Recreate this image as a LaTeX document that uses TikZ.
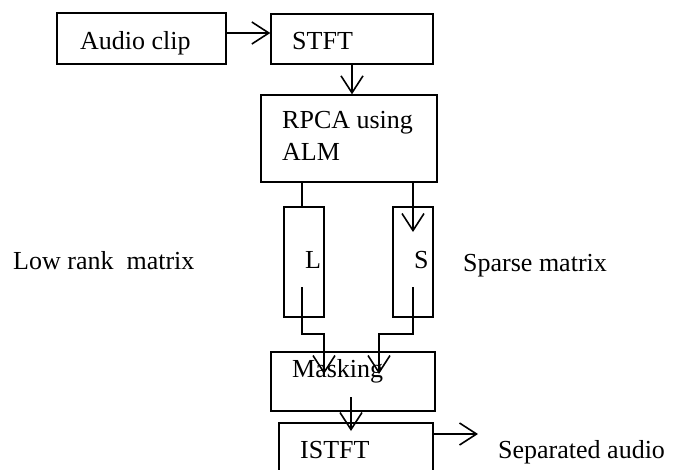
\documentclass[tikz,border=0pt]{standalone}
\usepackage{fontspec}
\setmainfont{Liberation Serif}
\usetikzlibrary{arrows.meta}
\begin{document}
\begin{tikzpicture}[x=1pt,y=-1pt,
  box/.style={draw,line width=1.4pt,inner sep=0pt,minimum width=#1},
  lbl/.style={anchor=base west,inner sep=0pt,font=\fontsize{26}{30}\selectfont},
  arr/.style={line width=1.6pt,-{Straight Barb[length=17pt,width=22pt,line width=1.6pt]}},
  ln/.style={line width=1.6pt}]
\useasboundingbox (0,0) rectangle (694,469);
% boxes
\node[box=169pt,minimum height=51pt] (audio) at (141.5,38.5) {};
\node[box=162pt,minimum height=50pt] (stft) at (352,39) {};
\node[box=176pt,minimum height=87pt] (rpca) at (349,138.5) {};
\node[box=40pt,minimum height=110pt] (L) at (304,262) {};
\node[box=40pt,minimum height=110pt] (S) at (413,262) {};
\node[box=164pt,minimum height=59pt] (mask) at (353,381.5) {};
\node[box=154pt,minimum height=80pt] (istft) at (356,463) {};
% texts
\node[lbl] (taudio) at (80,49) {Audio clip};
\node[lbl] (tstft) at (292,49) {STFT};
\node[lbl] (trpca1) at (282,128) {RPCA using};
\node[lbl] (trpca2) at (282,160) {ALM};
\node[lbl] (tL) at (305,268) {L};
\node[lbl] (tS) at (414,268) {S};
\node[lbl] (tmask) at (292,377) {Masking};
\node[lbl] (tistft) at (300,458) {ISTFT};
\node[lbl] (tlow) at (13,269) {Low rank~~matrix};
\node[lbl] (tsparse) at (463,271) {Sparse matrix};
\node[lbl] (tsep) at (498,458) {Separated audio};
% coordinates
\coordinate (a1) at (226,33);
\coordinate (Ltop) at (302,207);
\coordinate (Lin) at (302,287);
\coordinate (Lbend) at (324,334);
\coordinate (Lend) at (324,374);
\coordinate (Sin) at (413,287);
\coordinate (Sbend) at (379,334);
\coordinate (Send) at (379,374);
\coordinate (Stip) at (413,232);
\coordinate (Mout) at (351,397);
\coordinate (Itip) at (351,431);
\coordinate (o1) at (433,434);
\coordinate (o2) at (478,434);
% connectors
\draw[arr] (a1) -- (a1 -| stft.west);
\draw[arr] (stft.south) -- (stft.south |- rpca.north);
\draw[ln] (rpca.south -| Ltop) -- (Ltop);
\draw[arr] (rpca.south -| Stip) -- (Stip);
\draw[arr] (Lin) |- (Lbend) -- (Lend);
\draw[arr] (Sin) |- (Sbend) -- (Send);
\draw[arr] (Mout) -- (Itip);
\draw[arr] (o1) -- (o2);
\end{tikzpicture}
\end{document}
